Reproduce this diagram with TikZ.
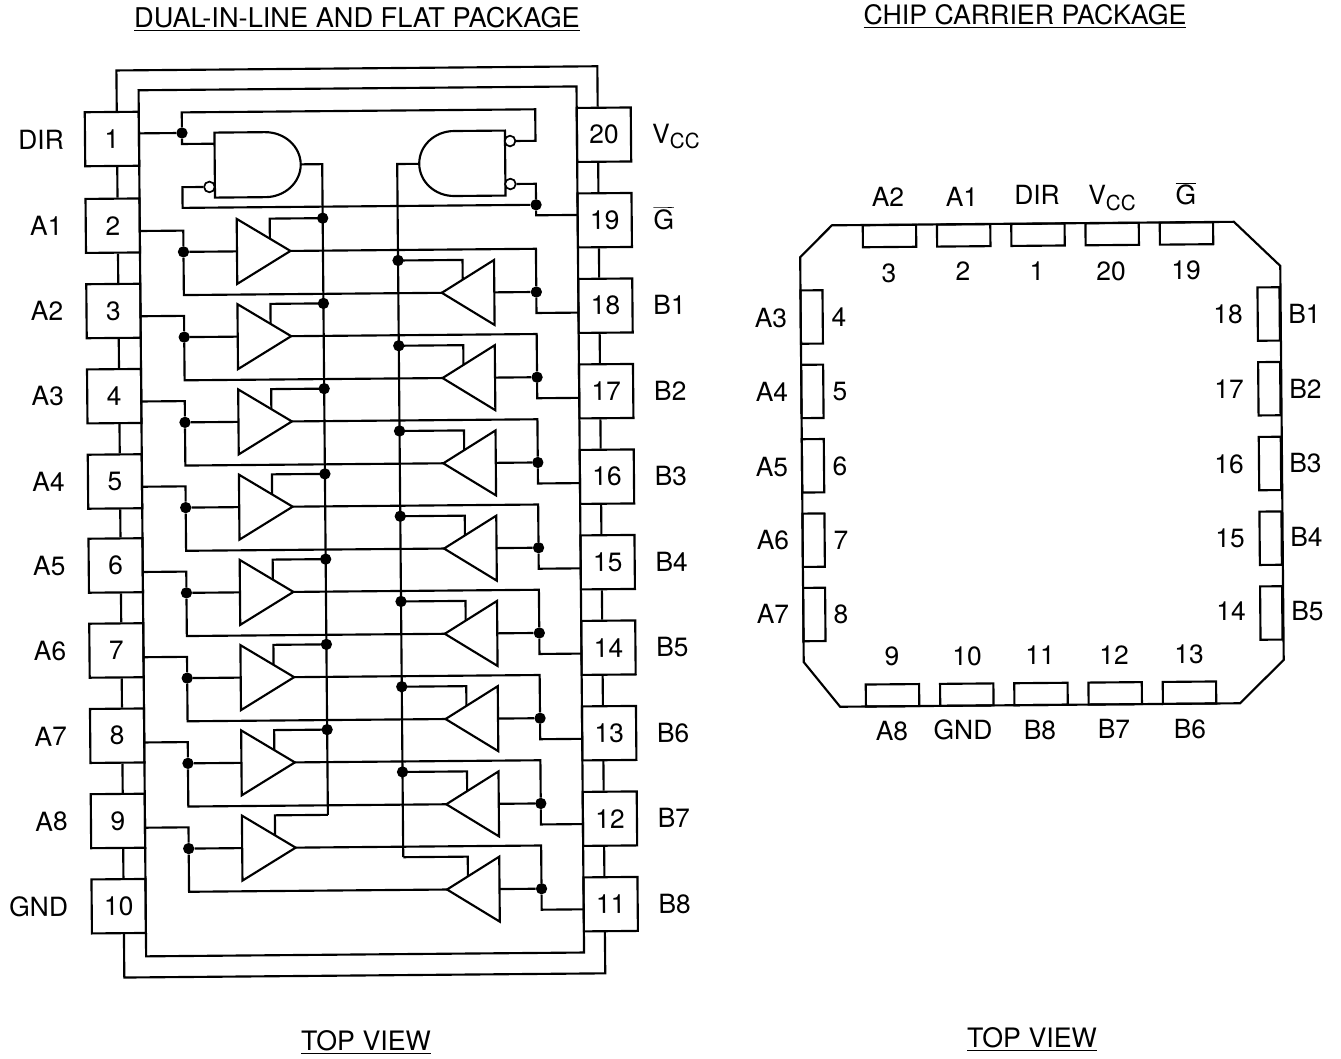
\documentclass[tikz,border=0pt]{standalone}
\usepackage{fontspec}
\setmainfont{TeX Gyre Heros}
\usetikzlibrary{calc}
\newcommand{\Vcc}{V\raisebox{-4pt}{\fontsize{15.5}{18}\selectfont CC}}
\newcommand{\Gbar}{$\overline{\mbox{G}}$}
\tikzset{
  x=0.75pt,y=-0.75pt,
  every node/.style={font=\fontsize{19.8}{24}\selectfont,inner sep=0pt,text=black},
  wire/.style={draw=black,line width=1.6pt,line join=miter},
  pinbox/.style={draw=black,line width=1.6pt,rectangle,minimum width=40.5pt,minimum height=40.5pt,transform shape},
  hbox/.style={draw=black,line width=1.6pt,rectangle,minimum width=40pt,minimum height=16.5pt,transform shape},
  vbox/.style={draw=black,line width=1.6pt,rectangle,minimum width=16.5pt,minimum height=40pt,transform shape},
  dotn/.style={fill=black,draw=none,circle,minimum size=8.5pt,inner sep=0pt,transform shape},
  bubble/.style={draw=black,fill=white,line width=1.3pt,circle,minimum size=8pt,inner sep=0pt,transform shape},
  lbl/.style={transform shape},
}
\begin{document}
\begin{tikzpicture}
\useasboundingbox (0,0) rectangle (1341,1059);
\fill[white] (0,0) rectangle (1341,1059);
% titles
\node[font=\fontsize{20.4}{24}\selectfont] (t1) at (357,19) {\underline{DUAL-IN-LINE AND FLAT PACKAGE}};
\node[font=\fontsize{20.05}{24}\selectfont] (t2) at (1025,16.5) {\underline{CHIP CARRIER PACKAGE}};
\node[font=\fontsize{20.05}{24}\selectfont] (t3) at (366,1042.5) {\underline{TOP VIEW}};
\node[font=\fontsize{20.05}{24}\selectfont] (t4) at (1032,1039.5) {\underline{TOP VIEW}};

%%%%% left diagram
\begin{scope}[shift={(112,139)},rotate=0.5]
  % pins
  \foreach \i/\v in {1/0,2/86.7,3/172,4/257.2,5/342.5,6/426.5,7/511.5,8/596.75,9/682,10/767.25}{
    \node[pinbox] (pL\i) at (0,\v) {\i};
  }
  \foreach \i in {11,...,20}{
    \node[pinbox] (pR\i) at (492,{85.5*(20-\i)}) {\i};
  }
  % side labels
  \node[lbl] (lDIR) at (-71,0) {DIR};
  \foreach \v/\t in {86.2/A1,171.5/A2,256.7/A3,342/A4,426.5/A5,511.5/A6,596.75/A7,682/A8}{
    \node[lbl] (l\t) at (-66.5,\v) {\t};
  }
  \node[lbl] (lGND) at (-80,767.25) {GND};
  \node[lbl] (lVCC) at (564,2) {\Vcc};
  \node[lbl] (lG) at (551,84) {\Gbar};
  \foreach \i/\t in {18/B1,17/B2,16/B3,15/B4,14/B5,13/B6,12/B7,11/B8}{
    \node[lbl] (l\t) at (556,{85.5*(20-\i)}) {\t};
  }
  % inner and outer frames
  \coordinate (iTL) at (27,-48.5);
  \coordinate (iBR) at (465,817.7);
  \draw[wire] (iTL) rectangle (iBR);
  \coordinate (chainL) at (5,0);
  \coordinate (chainR) at (486,0);
  \coordinate (oT) at (245,-68.5);
  \coordinate (oB) at (245,838.7);
  \draw[wire] (pL1.north -| chainL) |- (oT) -| (pR20.north -| chainR);
  \draw[wire] (pL10.south -| chainL) |- (oB) -| (pR11.south -| chainR);
  \foreach \a/\b in {1/2,2/3,3/4,4/5,5/6,6/7,7/8,8/9,9/10}{
    \draw[wire] (pL\a.south -| chainL) -- (pL\b.north -| chainL);
  }
  \foreach \a/\b in {20/19,19/18,18/17,17/16,16/15,15/14,14/13,13/12,12/11}{
    \draw[wire] (pR\a.south -| chainR) -- (pR\b.north -| chainR);
  }
  % gates
  \draw[wire] (102.5,-5.5) -- (153,-5.5) .. controls (172.5,-5.5) and (188.5,9) .. (188.5,27) .. controls (188.5,45) and (172.5,59.5) .. (153,59.5) -- (102.5,59.5) -- cycle;
  \draw[wire] (393,-5) -- (342,-5) .. controls (322.5,-5) and (307,9.5) .. (307,27.5) .. controls (307,45.5) and (322.5,60) .. (342,60) -- (393,60) -- cycle;
  \node[bubble] (bL) at (97,48.8) {};
  \node[bubble] (bR1) at (398,5.5) {};
  \node[bubble] (bR2) at (398,48.5) {};
  % gate wiring
  \coordinate (w1) at (27,-5.4);
  \node[dotn] (jDir) at (70,-5.4) {};
  \coordinate (gLa) at (102.5,5.6);
  \draw[wire] (w1) -- (jDir);
  \draw[wire] (jDir) |- (gLa);
  \coordinate (tR) at (423.5,-26);
  \draw[wire] (jDir) |- (tR) |- (bR1.east);
  \node[dotn] (jG) at (423.5,69.5) {};
  \coordinate (w19) at (465,80);
  \coordinate (cL) at (70,69.5);
  \draw[wire] (bL.west) -| (cL) -- (jG);
  \draw[wire] (bR2.east) -| (jG);
  \draw[wire] (jG) |- (w19);
  \coordinate (gLo) at (188.5,27);
  \coordinate (gRo) at (307,27.5);
  % channels
  \foreach \k in {0,...,7}{
    \begin{scope}[shift={(0,{85.25*\k})}]
      \coordinate (lt\k) at (124,81);
      \coordinate (lb\k) at (124,146);
      \coordinate (li\k) at (124,113.5);
      \coordinate (lo\k) at (177.5,113.5);
      \coordinate (lc\k) at (157,100.9);
      \coordinate (ld\k) at (210,81);
      \coordinate (rt\k) at (381,124.3);
      \coordinate (rb\k) at (381,189.3);
      \coordinate (ro\k) at (381,156.7);
      \coordinate (ri\k) at (328.5,156.7);
      \coordinate (rc\k) at (349.5,143.7);
      \coordinate (rd\k) at (285,124);
      \coordinate (pw\k) at (27,92.25);
      \coordinate (qw\k) at (465,177.7);
      \coordinate (low\k) at (70.5,156.7);
      \coordinate (up\k) at (423,113.5);
      \node[dotn] (jl\k) at (70.5,113.5) {};
      \node[dotn] (jr\k) at (423,156.7) {};
      \draw[wire] (lt\k) -- (lb\k) -- (lo\k) -- cycle;
      \draw[wire] (rt\k) -- (rb\k) -- (ri\k) -- cycle;
      \draw[wire] (pw\k) -| (jl\k);
      \draw[wire] (jl\k) -- (li\k);
      \draw[wire] (jl\k) -- (low\k) -- (ri\k);
      \draw[wire] (lo\k) -- (up\k) -- (jr\k);
      \draw[wire] (ro\k) -- (jr\k);
      \draw[wire] (jr\k) |- (qw\k);
      \draw[wire] (lc\k) |- (ld\k);
      \draw[wire] (rc\k) |- (rd\k);
      \ifnum\k<7
        \node[dotn] at (ld\k) {};
        \node[dotn] at (rd\k) {};
      \fi
    \end{scope}
  }
  % buses
  \draw[wire] (gLo) -| (ld7);
  \draw[wire] (gRo) -| (rd7);
\end{scope}

%%%%% right diagram
\begin{scope}[shift={(1040,465)},rotate=0.5]
  \draw[wire] (-206,-241.5) -- (196,-241.5) -- (242,-197) -- (242,197) -- (198,240) -- (-202,240) -- (-238,195) -- (-238,-210) -- cycle;
  \foreach \n/\p in {3/-148.5,2/-74.3,1/0,20/74.2,19/148.5}{
    \node[hbox] (ct\n) at (\p,-230.3) {};
  }
  \foreach \n/\p in {9/-149.5,10/-75.2,11/-1,12/73.2,13/147.5}{
    \node[hbox] (cb\n) at (\p,229) {};
  }
  \foreach \n/\p in {4/-150,5/-75.6,6/-1.2,7/73.2,8/147.5}{
    \node[vbox] (cl\n) at (-227,\p) {};
  }
  \foreach \n/\p in {18/-149,17/-74.3,16/0.5,15/75.2,14/150}{
    \node[vbox] (cr\n) at (230,\p) {};
  }
\end{scope}
% right diagram texts
\foreach \t/\x/\y in {A2/888/197,A1/962/197,DIR/1037/195,3/889/273,2/963/271,1/1037/271,20/1111/271,19/1186/270,
  9/892/656,10/967/656,11/1040/655,12/1114/655,13/1189/654,A8/892/731,GND/963/730,B8/1040/730,B7/1114/729,B6/1190/729,
  A3/771/318,A4/772/392,A5/772/467,A6/773/540,A7/773/614,4/839/317,5/840/392,6/840/466,7/841/540,8/841/614,
  18/1228/314,17/1229/389,16/1229/464,15/1230/538,14/1231/611,B1/1304.5/314,B2/1305.5/389,B3/1305.5/463,B4/1306.5/537,B5/1307.5/611}{
  \node (c\t\x) at (\x,\y) {\t};
}
\node (cVCC) at (1112,198) {\Vcc};
\node (cG) at (1186,194) {\Gbar};
\end{tikzpicture}
\end{document}
